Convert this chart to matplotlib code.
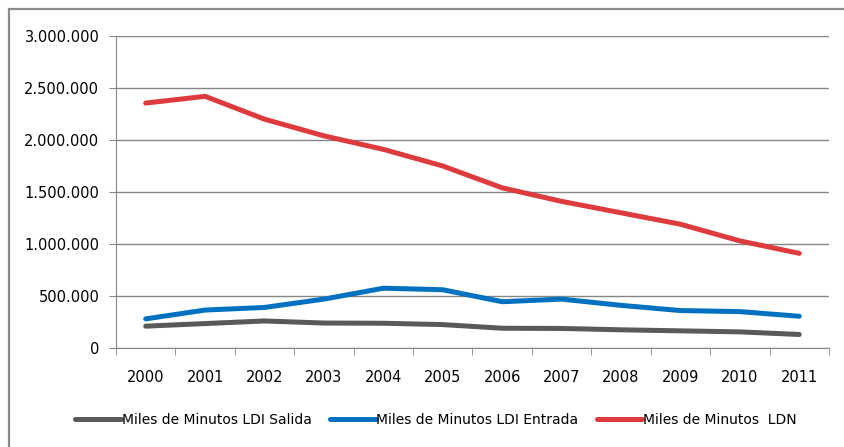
import numpy as np
import matplotlib
matplotlib.use("Agg")
from matplotlib import pyplot as plt
from matplotlib.ticker import FuncFormatter
from matplotlib.patches import Rectangle

years = [str(y) for y in range(2000, 2012)]
salida = [210000, 235000, 260000, 240000, 238000, 225000, 190000, 188000, 175000, 165000, 155000, 130000]
entrada = [280000, 365000, 390000, 470000, 575000, 560000, 445000, 470000, 410000, 360000, 350000, 305000]
ldn = [2355000, 2420000, 2200000, 2040000, 1910000, 1750000, 1540000, 1410000, 1300000, 1190000, 1030000, 910000]
labels = ["Miles de Minutos LDI Salida", "Miles de Minutos LDI Entrada", "Miles de Minutos  LDN"]
colors = ["#595959", "#0070C0", "#DE3B3E"]

plt.rcParams['font.family'] = ['Liberation Sans Narrow', 'DejaVu Sans']

fig = plt.figure(figsize=(8.45, 4.47), dpi=100)
ax = fig.add_axes([116/845, 1-348/447, (829-116)/845, (348-36)/447])

# grey frame around the chart
fig.patches.append(Rectangle((9/845, -0.05), 1.0, 1-9/447+0.05, transform=fig.transFigure,
                             fill=False, edgecolor='#8c8c8c', linewidth=1.6))

x = np.arange(len(years))
for vals, lab, c in zip([salida, entrada, ldn], labels, colors):
    ax.plot(x, vals, color=c, lw=3.6, label=lab, solid_joinstyle='round', solid_capstyle='round')

ax.set_xlim(-0.5, len(years)-0.5)
ax.set_ylim(0, 3000000)
ax.set_yticks(np.arange(0, 3000001, 500000))
ax.yaxis.set_major_formatter(FuncFormatter(lambda v, p: f"{int(v):,}".replace(",", ".")))
ax.set_xticks(x)
ax.set_xticklabels(years)
ax.set_xticks(np.arange(-0.5, len(years), 1), minor=True)
ax.tick_params(axis='x', which='major', length=0, pad=16, labelsize=10.5)
ax.tick_params(axis='x', which='minor', length=5, color='#868686')
ax.tick_params(axis='y', length=5, color='#868686', labelsize=10.5, pad=7)

ax.grid(axis='y', color='#868686', lw=1)
ax.set_axisbelow(True)
for s in ['top', 'right']:
    ax.spines[s].set_visible(False)
for s in ['left', 'bottom']:
    ax.spines[s].set_color('#868686')

fig.legend(loc='center', bbox_to_anchor=(436/845, 1-420/447), ncol=3, frameon=False,
           fontsize=10, handlelength=3.3, handletextpad=0.05, columnspacing=1.3)

fig.savefig("out.png", dpi=100)
